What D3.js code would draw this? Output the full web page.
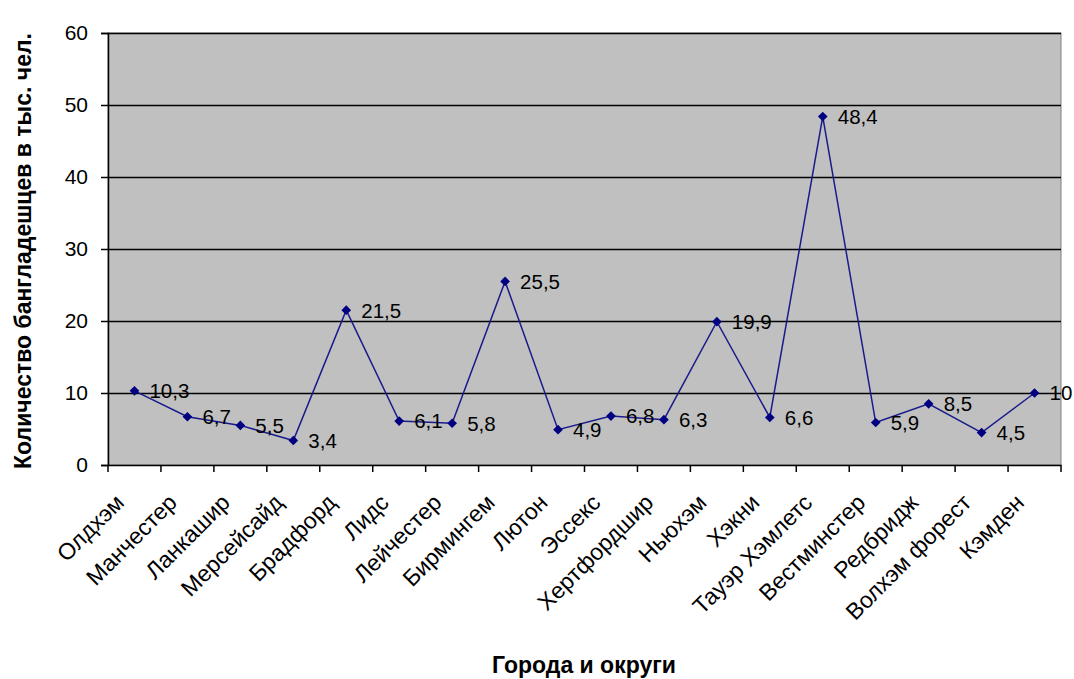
<!DOCTYPE html>
<html><head><meta charset="utf-8">
<script src="https://cdn.jsdelivr.net/npm/d3@7"></script>
<style>body{margin:0;background:#fff}svg{display:block}text{font-family:Arial,"Liberation Sans",sans-serif}</style>
</head><body><svg id="c" width="1074" height="679"></svg>
<script>
const categories = ["Олдхэм","Манчестер","Ланкашир","Мерсейсайд","Брадфорд","Лидс","Лейчестер","Бирмингем","Лютон","Эссекс","Хертфордшир","Ньюхэм","Хэкни","Тауэр Хэмлетс","Вестминстер","Редбридж","Волхэм форест","Кэмден"];
const values = [10.3,6.7,5.5,3.4,21.5,6.1,5.8,25.5,4.9,6.8,6.3,19.9,6.6,48.4,5.9,8.5,4.5,10];
const valueLabels = ["10,3","6,7","5,5","3,4","21,5","6,1","5,8","25,5","4,9","6,8","6,3","19,9","6,6","48,4","5,9","8,5","4,5","10"];
const yTicks = [0,10,20,30,40,50,60];
const yTitle = "Количество бангладешцев в тыс. чел.";
const xTitle = "Города и округи";

const svg = d3.select("#c");
const L=108,R=1061,T=33,B=465;
const x = d3.scaleBand().domain(categories).range([L,R]);
const y = d3.scaleLinear().domain([0,60]).range([B,T]);

svg.append("rect").attr("x",L).attr("y",T).attr("width",R-L).attr("height",B-T).attr("fill","#c0c0c0").attr("stroke","#808080").attr("stroke-width",1);
// gridlines
svg.append("g").selectAll("line").data(yTicks.filter(d=>d>0)).join("line")
  .attr("x1",L).attr("x2",R).attr("y1",d=>y(d)+0.5).attr("y2",d=>y(d)+0.5)
  .attr("stroke","#000").attr("stroke-width",1.5);

// y axis
const ya = svg.append("g").attr("transform",`translate(${L},0)`)
  .call(d3.axisLeft(y).tickValues(yTicks).tickSize(7).tickPadding(13).tickFormat(d3.format("d")));
ya.select(".domain").attr("stroke","#000").attr("stroke-width",1.5);
ya.selectAll(".tick line").attr("stroke","#000").attr("stroke-width",1.5);
ya.selectAll("text").attr("font-size",21).attr("fill","#000").style("font-family","Arial,'Liberation Sans',sans-serif");

// x axis
const xa = svg.append("g").attr("transform",`translate(0,${B})`)
  .call(d3.axisBottom(x).tickValues([]).tickSizeOuter(0));
xa.select(".domain").attr("stroke","#000").attr("stroke-width",1.5);
const tickPos = d3.range(categories.length+1).map(i=>L+i*x.step());
xa.selectAll(".tk").data(tickPos).join("line").attr("class","tk")
  .attr("x1",d=>d).attr("x2",d=>d).attr("y1",0).attr("y2",7).attr("stroke","#000").attr("stroke-width",1.5);

svg.append("g").selectAll("text").data(categories).join("text")
  .attr("transform",d=>`translate(${x(d)+x.bandwidth()/2-9},${B+39}) rotate(-45)`)
  .attr("text-anchor","end").attr("font-size",23).attr("fill","#000").text(d=>d);

// line
const cx = d=>x(d)+x.bandwidth()/2;
svg.append("path").datum(values).attr("fill","none").attr("stroke","#1a1a8c").attr("stroke-width",1.5)
  .attr("d",d3.line().x((d,i)=>cx(categories[i])).y(d=>y(d)));
svg.append("g").selectAll("path").data(values).join("path")
  .attr("transform",(d,i)=>`translate(${cx(categories[i])},${y(d)})`)
  .attr("d",d3.symbol(d3.symbolDiamond2,60)).attr("fill","#000080");

svg.append("g").selectAll("text").data(values).join("text")
  .attr("x",(d,i)=>cx(categories[i])+15).attr("y",d=>y(d)).attr("dy","0.36em")
  .attr("font-size",20.5).attr("fill","#000").text((d,i)=>valueLabels[i]);

svg.append("text").attr("transform",`translate(31,251) rotate(-90)`).attr("text-anchor","middle")
  .attr("font-size",23).attr("font-weight","bold").text(yTitle);
svg.append("text").attr("x",584).attr("y",673).attr("text-anchor","middle")
  .attr("font-size",23).attr("font-weight","bold").text(xTitle);
</script></body></html>
